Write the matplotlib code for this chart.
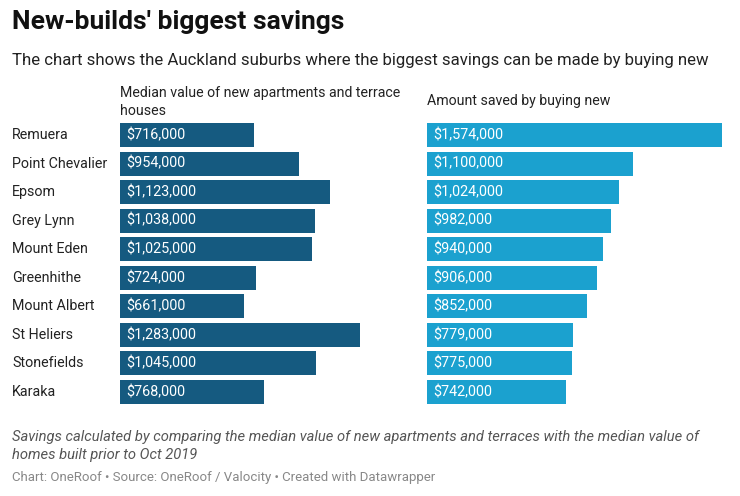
import matplotlib.pyplot as plt

suburbs = ['Remuera', 'Point Chevalier', 'Epsom', 'Grey Lynn', 'Mount Eden',
           'Greenhithe', 'Mount Albert', 'St Heliers', 'Stonefields', 'Karaka']
median_new = [716000, 954000, 1123000, 1038000, 1025000,
              724000, 661000, 1283000, 1045000, 768000]
saved = [1574000, 1100000, 1024000, 982000, 940000,
         906000, 852000, 779000, 775000, 742000]

plt.rcParams['font.family'] = ['Roboto', 'DejaVu Sans']

W, H = 740, 496
fig = plt.figure(figsize=(W / 100, H / 100), dpi=100)

# pixels per dollar, same on both panels
scale = 295 / 1574000
top_px, bot_px = 120.7, 406.3

def panel(x0, width_px, values, color):
    ax = fig.add_axes([x0 / W, 1 - bot_px / H, width_px / W, (bot_px - top_px) / H])
    ys = range(len(values))
    ax.barh(ys, values, height=0.84, color=color)
    ax.set_xlim(0, width_px / scale)
    ax.set_ylim(len(values) - 0.5, -0.5)
    ax.axis('off')
    for y, v in zip(ys, values):
        ax.text(6 * (1 / scale), y, f'${v:,.0f}', color='white', fontsize=10.4,
                va='center', ha='left')
    return ax

ax1 = panel(120, 280, median_new, '#155a80')
ax2 = panel(427, 296, saved, '#1ba1cf')

for i, s in enumerate(suburbs):
    ax1.text(-108 / scale, i, s, fontsize=10.3, va='center', ha='left', color='#222222')

fig.text(12 / W, 1 - 22 / H, "New-builds' biggest savings", fontsize=19,
         fontweight='bold', va='center', ha='left', color='#111111')
fig.text(12 / W, 1 - 61 / H,
         'The chart shows the Auckland suburbs where the biggest savings can be made by buying new',
         fontsize=12.05, va='center', ha='left', color='#222222')
fig.text(120 / W, 1 - 102 / H, 'Median value of new apartments and terrace\nhouses',
         fontsize=10.2, va='center', ha='left', color='#222222', linespacing=1.45)
fig.text(427 / W, 1 - 101 / H, 'Amount saved by buying new',
         fontsize=10.2, va='center', ha='left', color='#222222')

fig.text(12 / W, 1 - 446 / H,
         'Savings calculated by comparing the median value of new apartments and terraces with the median value of\nhomes built prior to Oct 2019',
         fontsize=10.6, style='italic', va='center', ha='left', color='#555555', linespacing=1.4)
fig.text(12 / W, 1 - 477 / H,
         'Chart: OneRoof \u2022 Source: OneRoof / Valocity \u2022 Created with Datawrapper',
         fontsize=9.5, va='center', ha='left', color='#888888')

fig.savefig('out.png', dpi=100, facecolor='white')
